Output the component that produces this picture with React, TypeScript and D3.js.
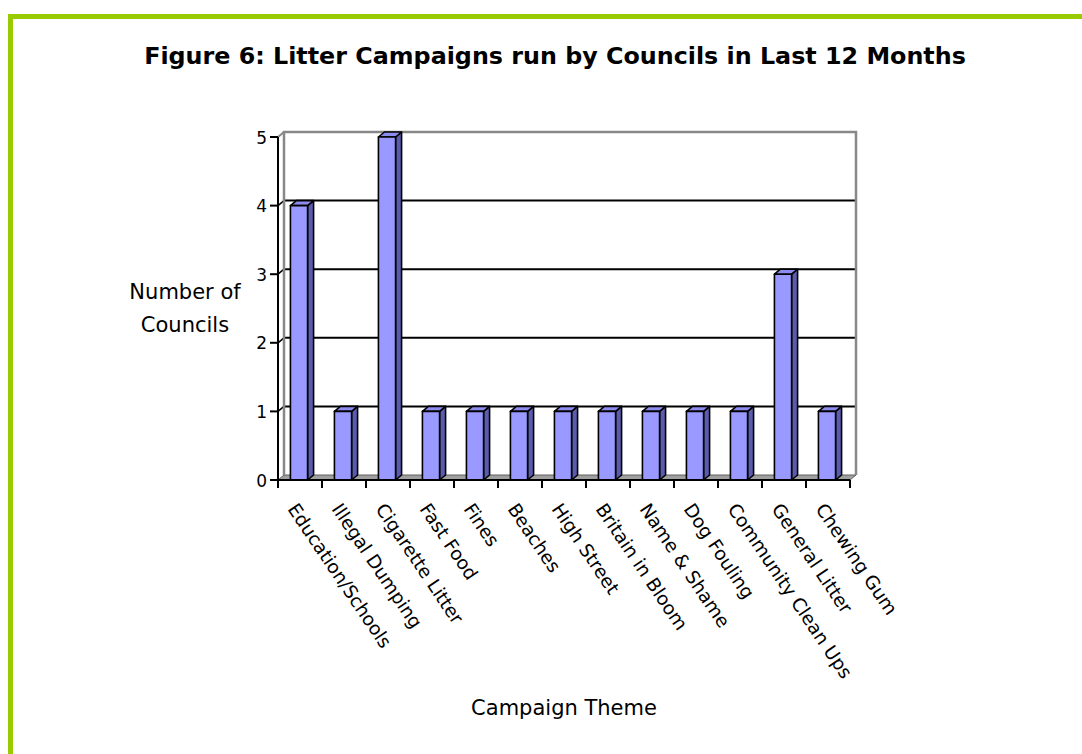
import React from "react";
import * as d3 from "d3";

const categories = [
  "Education/Schools",
  "Illegal Dumping",
  "Cigarette Litter",
  "Fast Food",
  "Fines",
  "Beaches",
  "High Street",
  "Britain in Bloom",
  "Name & Shame",
  "Dog Fouling",
  "Community Clean Ups",
  "General Litter",
  "Chewing Gum",
];
const values = [4, 1, 5, 1, 1, 1, 1, 1, 1, 1, 1, 3, 1];
const yTicks = [0, 1, 2, 3, 4, 5];

const W = 1082;
const H = 754;
const FONT = "'DejaVu Sans', Verdana, sans-serif";

export default function App() {
  const x0 = 278;
  const x1 = 850;
  const yBottom = 480;
  const yTop = 137;
  const dx = 6;
  const dy = -5;
  const x = d3.scaleBand<string>().domain(categories).range([x0, x1]).paddingInner(0).paddingOuter(0);
  const y = d3.scaleLinear().domain([0, 5]).range([yBottom, yTop]);
  const step = x.step();
  const bw = step * 0.39;
  const bd = 6;
  const bdy = -5;

  return (
    <svg width={W} height={H} style={{ position: "absolute", left: 0, top: 0, background: "#fff" }}>
      <rect x={10.5} y={16.5} width={1200} height={1000} fill="none" stroke="#99cc00" strokeWidth={5} />
      <text x={555} y={64} textAnchor="middle" fontFamily={FONT} fontWeight="bold" fontSize={23.8} fill="#000">
        Figure 6: Litter Campaigns run by Councils in Last 12 Months
      </text>

      {/* floor */}
      <polygon
        points={`${x0},${yBottom} ${x1},${yBottom} ${x1 + dx},${yBottom + dy} ${x0 + dx},${yBottom + dy}`}
        fill="#a0a0a0"
        stroke="#606060"
        strokeWidth={1}
      />
      {/* back wall gridlines */}
      {yTicks.filter((t) => t > 0 && t < 5).map((t) => (
        <g key={t}>
          <line x1={x0 + dx} x2={x1 + dx} y1={y(t) + dy} y2={y(t) + dy} stroke="#000" strokeWidth={2} />
          <line x1={x0} x2={x0 + dx} y1={y(t)} y2={y(t) + dy} stroke="#000" strokeWidth={1.5} />
        </g>
      ))}
      {/* walls outline */}
      <polyline
        points={`${x0 + dx},${yBottom + dy} ${x0 + dx},${yTop + dy} ${x1 + dx},${yTop + dy} ${x1 + dx},${yBottom + dy}`}
        fill="none"
        stroke="#888"
        strokeWidth={2.5}
      />
      <line x1={x0} y1={yTop} x2={x0 + dx} y2={yTop + dy} stroke="#888" strokeWidth={2} />

      {/* bars */}
      {categories.map((c, i) => {
        const bx = (x(c) as number) + step / 2 - bw / 2 - 1;
        const by = y(values[i]);
        const yb = yBottom;
        return (
          <g key={c} stroke="#000" strokeWidth={1.6} strokeLinejoin="round">
            <polygon
              points={`${bx + bw},${yb} ${bx + bw + bd},${yb + bdy} ${bx + bw + bd},${by + bdy} ${bx + bw},${by}`}
              fill="#5c5cae"
            />
            <polygon
              points={`${bx},${by} ${bx + bw},${by} ${bx + bw + bd},${by + bdy} ${bx + bd},${by + bdy}`}
              fill="#8c8cf0"
            />
            <rect x={bx} y={by} width={bw} height={yb - by} fill="#9999ff" />
          </g>
        );
      })}

      {/* axes */}
      <line x1={x0} x2={x0} y1={yTop} y2={yBottom} stroke="#000" strokeWidth={2} />
      <line x1={x0} x2={x1} y1={yBottom} y2={yBottom} stroke="#000" strokeWidth={2} />
      {yTicks.map((t) => (
        <g key={t}>
          <line x1={x0 - 8} x2={x0} y1={y(t)} y2={y(t)} stroke="#000" strokeWidth={2} />
          <text x={x0 - 11} y={y(t) + 6.5} textAnchor="end" fontFamily={FONT} fontSize={17} fill="#000">
            {t}
          </text>
        </g>
      ))}
      {categories.concat([""]).map((c, i) => {
        const tx = x0 + i * step;
        return <line key={"t" + i} x1={tx} x2={tx} y1={yBottom} y2={yBottom + 8} stroke="#000" strokeWidth={2} />;
      })}
      {categories.map((c) => {
        const cx = (x(c) as number) + step / 2;
        return (
          <text
            key={"l" + c}
            transform={`translate(${cx - 13},${yBottom + 29}) rotate(56)`}
            fontFamily={FONT}
            fontSize={18.5}
            fill="#000"
          >
            {c}
          </text>
        );
      })}

      <text x={185} y={299} textAnchor="middle" fontFamily={FONT} fontSize={21} fill="#000">Number of</text>
      <text x={185} y={332} textAnchor="middle" fontFamily={FONT} fontSize={21} fill="#000">Councils</text>
      <text x={564} y={715} textAnchor="middle" fontFamily={FONT} fontSize={21} fill="#000">Campaign Theme</text>
    </svg>
  );
}
